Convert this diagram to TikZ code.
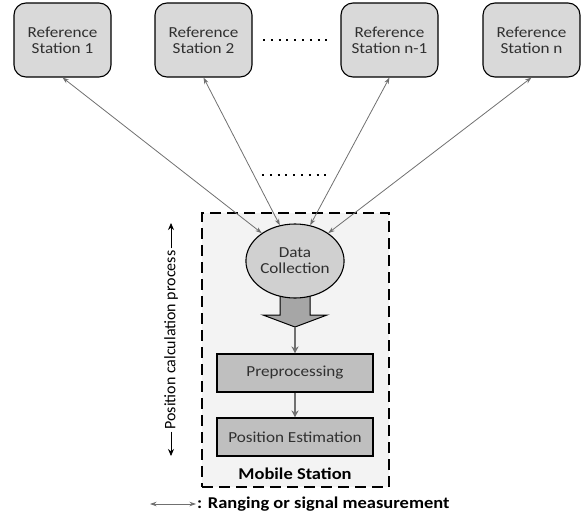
\documentclass[tikz,border=0pt]{standalone}
\usepackage{fontspec}
\setmainfont[FakeStretch=1.12]{Carlito}
\newfontfamily\vfont{Carlito}
\usetikzlibrary{arrows.meta,shapes.geometric}
\definecolor{refgray}{HTML}{D9D9D9}
\definecolor{ellgray}{HTML}{D0D0D0}
\definecolor{procgray}{HTML}{BFBFBF}
\definecolor{msbg}{HTML}{F3F3F3}
\definecolor{textgray}{HTML}{303030}
\definecolor{linegray}{HTML}{707070}
\definecolor{blockgray}{HTML}{A6A6A6}
\begin{document}
\begin{tikzpicture}[x=1pt,y=-1pt,
  boxfont/.style={font=\fontsize{15.3}{16}\selectfont},
  refbox/.style={draw=black, line width=1.1pt, rounded corners=12pt, fill=refgray,
    minimum width=97pt, minimum height=74pt, align=center, boxfont, text=textgray, inner sep=0pt},
  procbox/.style={draw=black, line width=1.1pt, fill=procgray,
    minimum width=156pt, minimum height=38pt, align=center, boxfont, text=textgray, inner sep=0pt},
  conn/.style={draw=linegray, line width=0.8pt, {Stealth[length=6.5pt,width=4.5pt]}-{Stealth[length=6.5pt,width=4.5pt]}},
  flow/.style={draw=linegray, line width=1.6pt, -{Stealth[length=7pt,width=7pt]}},
  dotline/.style={line width=2pt, dash pattern=on 2pt off 5.8pt},
  boldtext/.style={font=\fontsize{16.5}{18}\selectfont\bfseries, inner sep=0pt},
]
\useasboundingbox (0,0) rectangle (581,517);

% mobile station container
\node[draw=black, line width=2pt, dash pattern=on 11pt off 6pt, fill=msbg,
  minimum width=187pt, minimum height=274pt, inner sep=0pt] (ms) at (295.5,350) {};

% reference stations
\node[refbox] (s1) at (62.5,40) {Reference\\Station 1};
\node[refbox] (s2) at (203.5,40) {Reference\\Station 2};
\node[refbox] (s3) at (389.5,40) {Reference\\Station n-1};
\node[refbox] (s4) at (531.5,40) {Reference\\Station n};

% dots
\coordinate (d1a) at (263,40);
\coordinate (d1b) at (327,40);
\draw[dotline] (d1a) -- (d1b);
\coordinate (d2a) at (262,175);
\coordinate (d2b) at (328,175);
\draw[dotline] (d2a) -- (d2b);

% block arrow
\draw[black, line width=1pt, fill=blockgray, line join=miter]
  (280,290) -- (310,290) -- (310,315) -- (327,315) -- (295,327) -- (263,315) -- (280,315) -- cycle;
\coordinate (tip) at (295,327);

% data collection
\node[ellipse, draw=black, line width=1.1pt, fill=ellgray, minimum width=98pt,
  minimum height=74pt, align=center, boxfont, text=textgray, inner sep=0pt] (dc) at (295,261) {Data\\Collection};

% processing
\node[procbox] (pre) at (295,373) {Preprocessing};
\node[procbox] (pe) at (295,437) {Position Estimation};
\node[boldtext] (mst) at (295,474) {Mobile Station};

\draw[flow] (tip) -- (pre.north);
\draw[flow] (pre.south) -- (pe.north);

% connectors
\draw[conn] (s1.south) -- (dc.140);
\draw[conn] (s2.south) -- (dc.113);
\draw[conn] (s3.south) -- (dc.67);
\draw[conn] (s4.south) -- (dc.40);

% vertical process arrow
\node[rotate=90, inner sep=2pt, font=\vfont\fontsize{16}{18}\selectfont] (pcp) at (171,340) {Position calculation process};
\coordinate (ptop) at (171,223);
\coordinate (pbot) at (171,456);
\draw[black, line width=0.8pt, -{Stealth[length=7pt,width=6pt]}] (pcp.east) -- (ptop);
\draw[black, line width=0.8pt, -{Stealth[length=7pt,width=6pt]}] (pcp.west) -- (pbot);

% legend
\coordinate (la) at (150,504);
\coordinate (lb) at (196,504);
\draw[conn] (la) -- (lb);
\node[boldtext, anchor=west] (leg) at (197,504) {: Ranging or signal measurement};
\end{tikzpicture}
\end{document}
